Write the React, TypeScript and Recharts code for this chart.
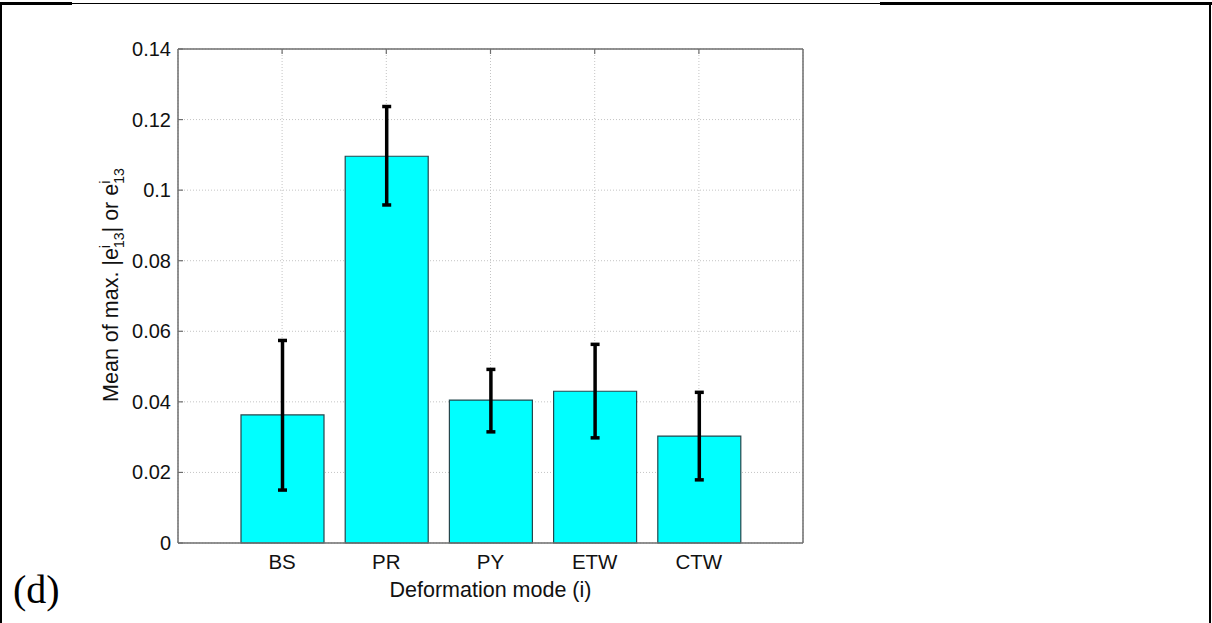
import React from 'react'
import { Bar, BarChart, CartesianGrid, ErrorBar, Label, XAxis, YAxis } from 'recharts'

const modes = ['BS', 'PR', 'PY', 'ETW', 'CTW']
const meanValues = [0.0363, 0.1096, 0.0405, 0.043, 0.0303]
const lowerValues = [0.015, 0.0958, 0.0315, 0.0298, 0.0179]
const upperValues = [0.0574, 0.1237, 0.0492, 0.0563, 0.0427]
const yTicks = [0, 0.02, 0.04, 0.06, 0.08, 0.1, 0.12, 0.14]

const data = modes.map((name, i) => ({
  name,
  mean: meanValues[i],
  err: [meanValues[i] - lowerValues[i], upperValues[i] - meanValues[i]]
}))

const FONT = '"Liberation Sans", Arial, sans-serif'
const AXIS_COLOR = '#6e6e6e'
const PLOT_LEFT = 178
const PLOT_RIGHT = 803
const PLOT_TOP = 49
const PLOT_BOTTOM = 543

function LeftTick(props: any) {
  const { x, y, payload } = props
  return (
    <g>
      <line x1={PLOT_LEFT} y1={y} x2={PLOT_LEFT + 5} y2={y} stroke={AXIS_COLOR} strokeWidth={1.2} />
      <text x={x} y={y} dy={7} textAnchor='end' fontSize={20} fontFamily={FONT} fill='#111'>
        {String(payload.value)}
      </text>
    </g>
  )
}

function RightTick(props: any) {
  const { y } = props
  return <line x1={PLOT_RIGHT} y1={y} x2={PLOT_RIGHT - 5} y2={y} stroke={AXIS_COLOR} strokeWidth={1.2} />
}

function TopTick(props: any) {
  const { x } = props
  return <line x1={x} y1={PLOT_TOP} x2={x} y2={PLOT_TOP + 5} stroke={AXIS_COLOR} strokeWidth={1.2} />
}

function BottomTick(props: any) {
  const { x, payload } = props
  return (
    <text x={x} y={PLOT_BOTTOM + 26} textAnchor='middle' fontSize={20.5} fontFamily={FONT} fill='#111'>
      {payload.value}
    </text>
  )
}

function YTitle() {
  const cx = 118
  const cy = 285
  return (
    <text
      x={cx}
      y={cy}
      transform={`rotate(-90, ${cx}, ${cy})`}
      textAnchor='middle'
      fontSize={21.5}
      fontFamily={FONT}
      fill='#111'
    >
      Mean of max. |e
      <tspan dy={-8} fontSize={14}>i</tspan>
      <tspan dx={-3} dy={14} fontSize={14}>13</tspan>
      <tspan dy={-6}>| or e</tspan>
      <tspan dy={-8} fontSize={14}>i</tspan>
      <tspan dx={-3} dy={14} fontSize={14}>13</tspan>
    </text>
  )
}

function XTitle() {
  return (
    <text x={(PLOT_LEFT + PLOT_RIGHT) / 2} y={597} textAnchor='middle' fontSize={21.5} fontFamily={FONT} fill='#111'>
      Deformation mode (i)
    </text>
  )
}

export default function App() {
  return (
    <div style={{ position: 'absolute', left: 0, top: 0, width: 1212, height: 623, background: '#fff' }}>
      {/* table cell borders */}
      <div style={{ position: 'absolute', left: 0, top: 3, width: 1212, height: 1, background: '#000' }} />
      <div style={{ position: 'absolute', left: 0, top: 2, width: 72, height: 3, background: '#000' }} />
      <div style={{ position: 'absolute', left: 880, top: 2, width: 332, height: 3, background: '#000' }} />
      <div style={{ position: 'absolute', left: 0, top: 2, width: 2, height: 621, background: '#000' }} />
      <div style={{ position: 'absolute', left: 1209, top: 2, width: 2, height: 621, background: '#000' }} />

      <div
        style={{
          position: 'absolute',
          left: 13,
          top: 570,
          fontFamily: '"Liberation Serif", "Times New Roman", serif',
          fontSize: 40,
          lineHeight: '40px',
          color: '#000'
        }}
      >
        (d)
      </div>

      <div style={{ position: 'absolute', left: 0, top: 0 }}>
        <BarChart
          width={1212}
          height={623}
          data={data}
          margin={{ top: PLOT_TOP - 1, right: 1212 - PLOT_RIGHT - 1, bottom: 0, left: 0 }}
          barSize={83}
        >
          <CartesianGrid stroke='#c4c4c4' strokeDasharray='1 2' />
          <XAxis
            dataKey='name'
            height={623 - PLOT_BOTTOM}
            padding={{ left: 52, right: 52 }}
            axisLine={{ stroke: AXIS_COLOR, strokeWidth: 1.5 }}
            tickLine={false}
            tick={<BottomTick />}
            interval={0}
            label={<Label content={() => <XTitle />} />}
          />
          <XAxis
            xAxisId='top'
            dataKey='name'
            orientation='top'
            height={1}
            padding={{ left: 52, right: 52 }}
            axisLine={{ stroke: AXIS_COLOR, strokeWidth: 1.5 }}
            tickLine={false}
            tick={<TopTick />}
            interval={0}
          />
          <YAxis
            type='number'
            domain={[0, 0.14]}
            ticks={yTicks}
            width={PLOT_LEFT}
            axisLine={{ stroke: AXIS_COLOR, strokeWidth: 1.5 }}
            tickLine={false}
            tickMargin={1}
            tick={<LeftTick />}
            interval={0}
            label={<Label content={() => <YTitle />} />}
          />
          <YAxis
            yAxisId='right'
            orientation='right'
            type='number'
            domain={[0, 0.14]}
            ticks={yTicks}
            width={1}
            axisLine={{ stroke: AXIS_COLOR, strokeWidth: 1.5 }}
            tickLine={false}
            tick={<RightTick />}
            interval={0}
          />
          <Bar dataKey='mean' fill='#00ffff' stroke='#24474d' strokeWidth={1.2} isAnimationActive={false}>
            <ErrorBar
              dataKey='err'
              width={4.5}
              stroke='#000'
              strokeWidth={3.5}
              direction='y'
              isAnimationActive={false}
            />
          </Bar>
        </BarChart>
      </div>
    </div>
  )
}
